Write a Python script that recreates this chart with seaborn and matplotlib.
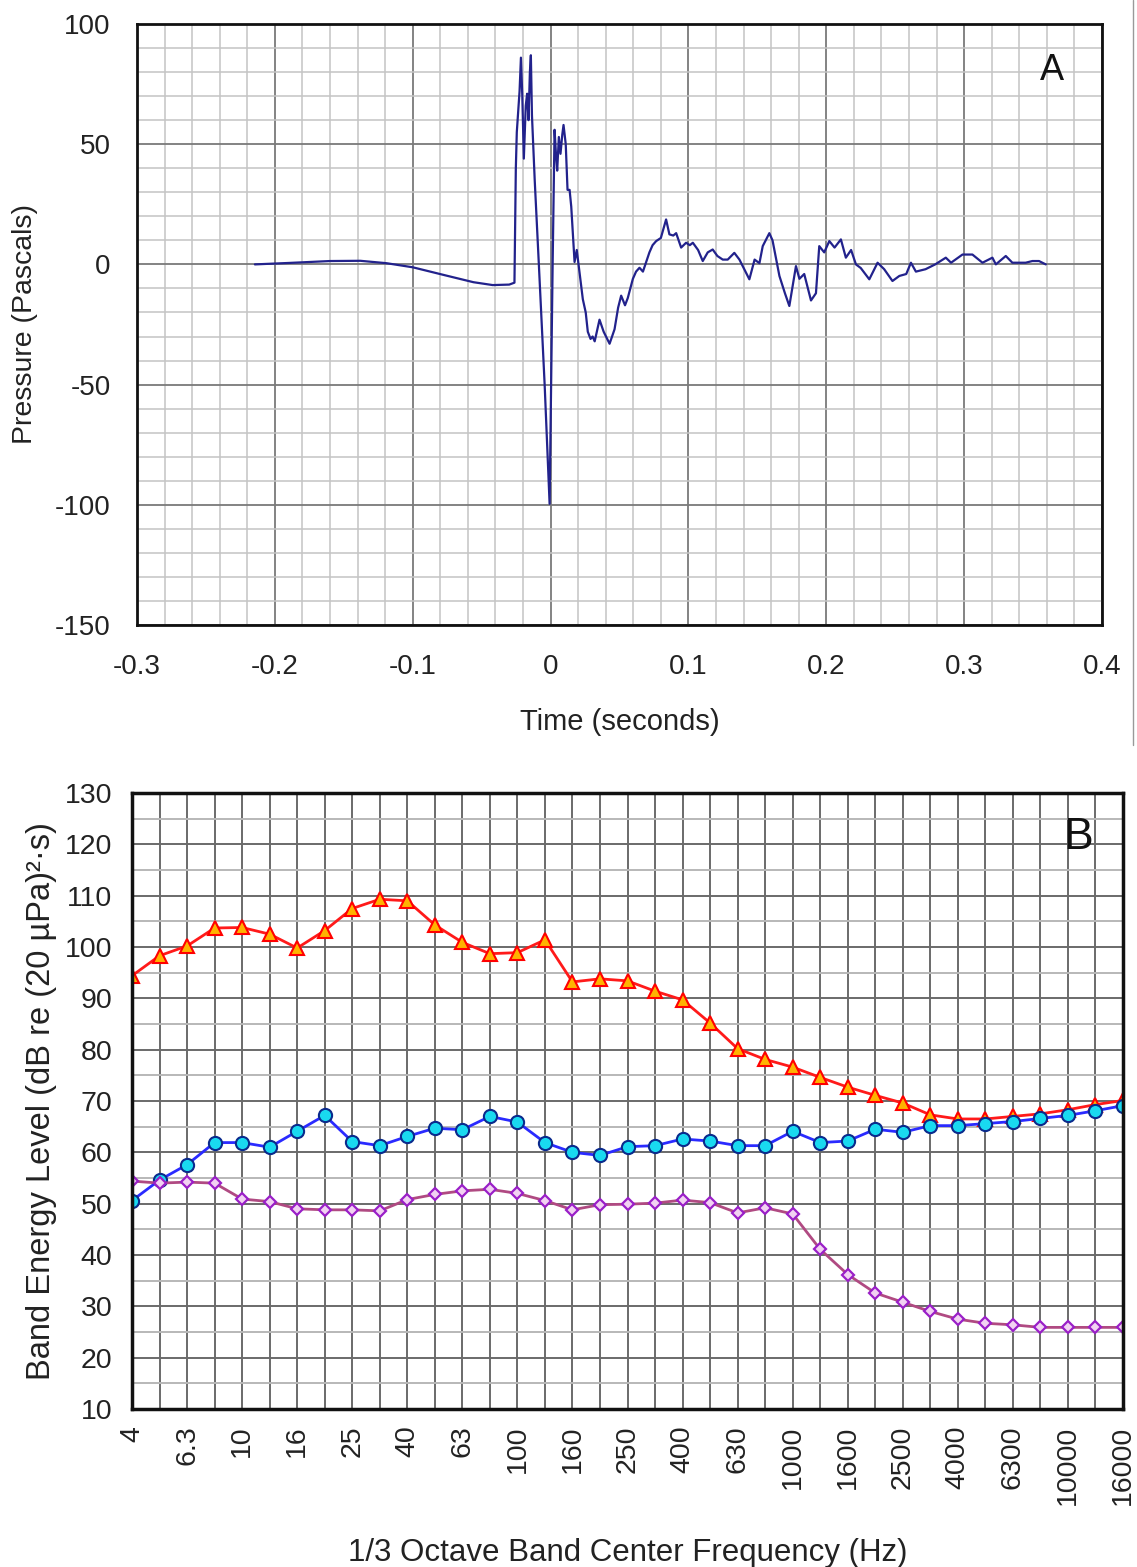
import numpy as np
import pandas as pd
import matplotlib
matplotlib.use("Agg")
import matplotlib.pyplot as plt
from matplotlib.lines import Line2D
import seaborn as sns

# ---------------- Panel A data: pressure waveform ----------------
time_s = [-0.2145, -0.190, -0.160, -0.138, -0.119, -0.100, -0.076, -0.056, -0.042, -0.030, -0.0262,
          -0.0252, -0.0245, -0.0225, -0.0215, -0.0205, -0.0194, -0.0180, -0.0170, -0.0160, -0.0150,
          -0.0143, -0.0135, -0.0115, -0.0085, -0.0043, -0.0007, 0.0015, 0.0029, 0.0040, 0.0048,
          0.0060, 0.0072, 0.0085, 0.0094, 0.0110, 0.0123, 0.0138, 0.0150, 0.0174, 0.0190, 0.0205,
          0.0234, 0.0255, 0.0270, 0.0290, 0.0305, 0.0320, 0.0355, 0.0385, 0.0428, 0.0464, 0.0490,
          0.0512, 0.0540, 0.0560, 0.0597, 0.0620, 0.0645, 0.0670, 0.0717, 0.0740, 0.0766, 0.0800,
          0.0838, 0.0862, 0.0890, 0.0911, 0.0947, 0.0983, 0.1010, 0.1032, 0.1070, 0.1104, 0.1140,
          0.1176, 0.1210, 0.1249, 0.1285, 0.1333, 0.1370, 0.1442, 0.1480, 0.1515, 0.1539, 0.1587,
          0.1610, 0.1660, 0.1700, 0.1732, 0.1780, 0.1805, 0.1840, 0.1889, 0.1925, 0.1949, 0.1985,
          0.2022, 0.2060, 0.2106, 0.2142, 0.2180, 0.2215, 0.2250, 0.2312, 0.2372, 0.2420, 0.2480,
          0.2530, 0.2580, 0.2614, 0.2650, 0.2720, 0.2790, 0.2867, 0.2905, 0.2988, 0.3060, 0.3133,
          0.3205, 0.3230, 0.3302, 0.3350, 0.3446, 0.3495, 0.3543, 0.3592]
pressure_pa = [0.0, 0.6, 1.4, 1.5, 0.5, -1.2, -4.6, -7.4, -8.6, -8.4, -7.6,
               40, 55, 72, 86, 70, 44, 66, 71, 60, 80,
               87, 62, 35, 0, -50, -99.6, 0, 56, 45, 39,
               53, 46, 54, 58, 50, 31, 31, 24, 1, 6, -1,
               -14.5, -20, -28, -31, -30, -32, -23, -28, -33, -27, -18,
               -13, -17, -14, -6, -3, -1.4, -3, 5, 8, 9.7, 11,
               18.7, 12.5, 12, 13, 7, 9, 8, 9, 6, 1.4, 5,
               6.2, 3.5, 2, 2, 4.8, 2, -6.2, 2, 0.5, 7.6, 13,
               10, -4.8, -12, -17.3, -0.7, -6, -4, -15, -12, 7.6, 5,
               9.7, 7, 10.4, 2.8, 6, 0, -1.5, -6.2, 0.7, -2, -6.9,
               -4.8, -4, 0.7, -3, -2, 0, 2.8, 0.7, 4.1, 4.1, 0.7,
               2.8, 0, 3.5, 0.7, 0.7, 1.4, 1.4, 0]

# ---------------- Panel B data: 1/3 octave band energy ----------------
band_labels = ["4", "5", "6.3", "8", "10", "12.5", "16", "20", "25", "31.5", "40", "50", "63",
               "80", "100", "125", "160", "200", "250", "315", "400", "500", "630", "800",
               "1000", "1250", "1600", "2000", "2500", "3150", "4000", "5000", "6300", "8000",
               "10000", "12500", "16000"]
red_level = [94.4, 98.3, 100.2, 103.7, 103.8, 102.5, 99.8, 103.2, 107.5, 109.3, 109.0, 104.3,
             100.9, 98.7, 98.9, 101.4, 93.2, 93.8, 93.4, 91.4, 89.7, 85.2, 80.2, 78.1, 76.6,
             74.6, 72.7, 71.1, 69.6, 67.3, 66.5, 66.5, 67.0, 67.5, 68.3, 69.3, 70.1]
blue_level = [50.6, 54.6, 57.6, 61.9, 61.9, 61.0, 64.1, 67.2, 62.1, 61.3, 63.1, 64.7, 64.4,
              67.0, 65.9, 61.9, 60.0, 59.4, 61.1, 61.3, 62.6, 62.2, 61.3, 61.3, 64.1, 61.9,
              62.2, 64.5, 63.9, 65.2, 65.2, 65.6, 66.0, 66.6, 67.2, 68.1, 69.1]
purple_level = [54.4, 54.0, 54.2, 54.0, 50.9, 50.4, 49.0, 48.8, 48.8, 48.6, 50.8, 51.8, 52.5,
                52.8, 52.0, 50.6, 48.8, 49.8, 49.9, 50.1, 50.7, 50.2, 48.2, 49.2, 48.0, 41.1,
                36.2, 32.6, 30.8, 29.0, 27.5, 26.7, 26.4, 25.9, 25.9, 25.9, 25.9]

sns.set_style("white")
plt.rcParams["font.family"] = ["Liberation Sans", "DejaVu Sans"]
plt.rcParams["axes.unicode_minus"] = False

W, H = 1137, 1567
fig = plt.figure(figsize=(W / 100, H / 100), dpi=100)

def frac(l, t, r, b):
    return [l / W, 1 - b / H, (r - l) / W, (b - t) / H]

# ---------------- Panel A ----------------
axA = fig.add_axes(frac(137, 24, 1102, 625))
dfA = pd.DataFrame({"t": time_s, "p": pressure_pa})
sns.lineplot(data=dfA, x="t", y="p", ax=axA, estimator=None, sort=False,
             color="#22228c", lw=1.6)
axA.set_xlim(-0.3, 0.4)
axA.set_ylim(-150, 100)
axA.set_xticks(np.arange(-0.3, 0.401, 0.1))
axA.set_xticklabels(["-0.3", "-0.2", "-0.1", "0", "0.1", "0.2", "0.3", "0.4"])
axA.set_xticks(np.arange(-0.3, 0.401, 0.02), minor=True)
axA.set_yticks([-150, -100, -50, 0, 50, 100])
axA.set_yticks(np.arange(-150, 101, 10), minor=True)
axA.grid(which="major", color="#7a7a7a", lw=1.3)
axA.grid(which="minor", color="#c4c4c4", lw=1.1)
axA.set_axisbelow(True)
axA.tick_params(which="both", direction="out", length=5, color="#aaaaaa", width=1,
                labelsize=20, pad=16, colors="#222222")
axA.tick_params(axis="y", which="both", pad=14)
axA.tick_params(which="minor", length=4)
for s in axA.spines.values():
    s.set_color("#111111")
    s.set_linewidth(2)
axA.set_xlabel("Time (seconds)", fontsize=21, labelpad=20, color="#222222")
axA.set_ylabel("Pressure (Pascals)", fontsize=20.5, labelpad=12, color="#222222")
axA.text(0.948, 0.923, "A", transform=axA.transAxes, fontsize=26, ha="center", va="center",
         color="#111111")

# ---------------- Panel B ----------------
axB = fig.add_axes(frac(132, 793, 1123, 1409))
idx = np.arange(len(band_labels))
dfB = pd.DataFrame({"i": idx, "red": red_level, "blue": blue_level, "purple": purple_level})
sns.lineplot(data=dfB, x="i", y="red", ax=axB, estimator=None, color="#ff1a1a", lw=2,
             marker="^", markersize=9.5, markerfacecolor="#ffb300", markeredgecolor="#ff0000",
             markeredgewidth=1.5)
sns.lineplot(data=dfB, x="i", y="blue", ax=axB, estimator=None, color="#2a2aff", lw=2,
             marker="o", markersize=9.5, markerfacecolor="#19d9f0", markeredgecolor="#0a2a8c",
             markeredgewidth=1.5)
sns.lineplot(data=dfB, x="i", y="purple", ax=axB, estimator=None, color="#b04a82", lw=2,
             marker="D", markersize=6.5, markerfacecolor="#f2d2f2", markeredgecolor="#9a1fc8",
             markeredgewidth=1.6)
axB.set_xlim(0, len(band_labels) - 1)
axB.set_ylim(10, 130)
axB.set_xticks(idx)
axB.set_xticklabels([lab if k % 2 == 0 else "" for k, lab in enumerate(band_labels)],
                    rotation=90)
axB.set_yticks(np.arange(10, 131, 10))
axB.set_yticks(np.arange(15, 130, 10), minor=True)
axB.grid(which="major", color="#6a6a6a", lw=1.4)
axB.grid(which="minor", axis="y", color="#b8b8b8", lw=1.4)
axB.set_axisbelow(True)
axB.tick_params(which="both", direction="out", length=6, color="#777777", width=1,
                labelsize=20.5, colors="#222222")
axB.tick_params(axis="x", pad=6)
axB.tick_params(axis="y", pad=8)
axB.tick_params(which="minor", length=0)
for s in axB.spines.values():
    s.set_color("#111111")
    s.set_linewidth(2.5)
axB.set_xlabel("1/3 Octave Band Center Frequency (Hz)", fontsize=22.5, labelpad=24,
               color="#222222")
axB.set_ylabel("Band Energy Level (dB re (20 µPa)²·s)", fontsize=23.5, labelpad=6,
               color="#222222")
axB.text(0.955, 0.927, "B", transform=axB.transAxes, fontsize=32, ha="center", va="center",
         color="#111111")

# thin frame line at right edge of upper figure region
fig.add_artist(Line2D([1133 / W, 1133 / W], [1 - 745 / H, 1.0], transform=fig.transFigure,
                      color="#999999", lw=1))

fig.savefig("out.png", dpi=100, facecolor="white")
